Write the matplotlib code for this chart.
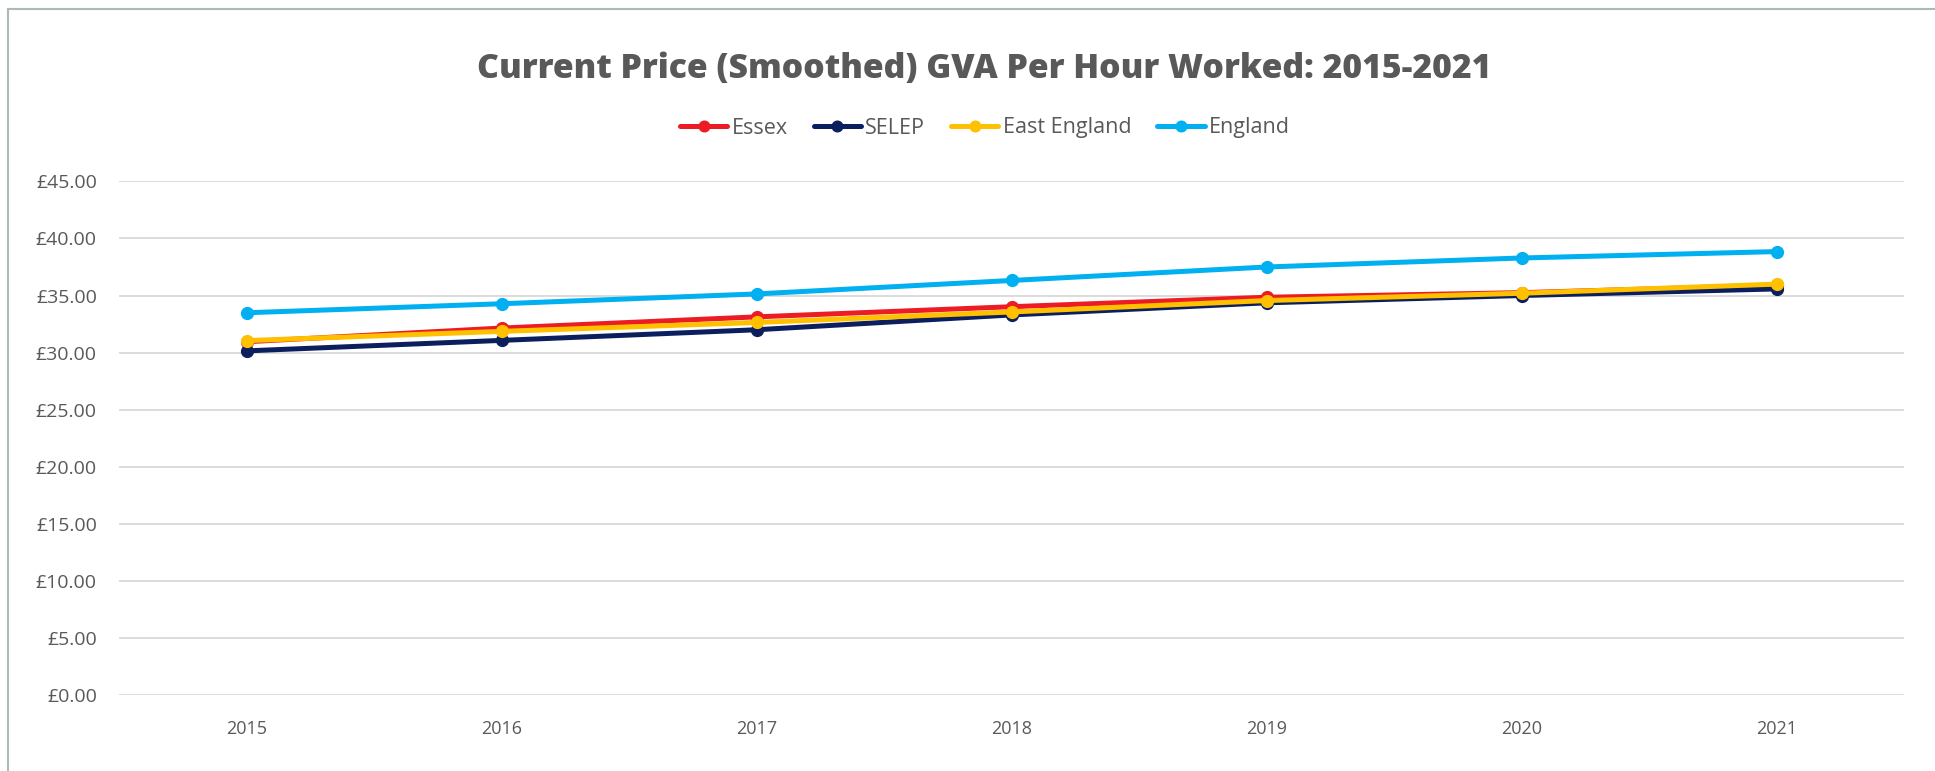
import matplotlib
matplotlib.use("Agg")
import matplotlib.pyplot as plt
from matplotlib.lines import Line2D
from matplotlib.ticker import FuncFormatter
import numpy as np

plt.rcParams["font.family"] = ["Open Sans", "DejaVu Sans"]

YEARS = ["2015", "2016", "2017", "2018", "2019", "2020", "2021"]
ESSEX = [30.95, 32.15, 33.13, 34.02, 34.85, 35.25, 35.9]
SELEP = [30.15, 31.07, 32.0, 33.3, 34.36, 35.0, 35.58]
EAST_ENGLAND = [31.05, 31.86, 32.64, 33.56, 34.56, 35.2, 36.0]
ENGLAND = [33.49, 34.28, 35.14, 36.32, 37.5, 38.29, 38.85]

SERIES = [
    ("Essex", ESSEX, "#ED1C24", 2),
    ("SELEP", SELEP, "#0B1F5E", 3),
    ("East England", EAST_ENGLAND, "#FFC000", 4),
    ("England", ENGLAND, "#00B0F0", 5),
]

TEXT = "#595959"
GRID = "#d9d9d9"

fig = plt.figure(figsize=(19.35, 7.71), dpi=100, facecolor="white")
ax = fig.add_axes([119 / 1935, 1 - 695 / 771, (1904 - 119) / 1935, (695 - 181.4) / 771])

x = np.arange(len(YEARS))
handles = []
for name, vals, color, z in SERIES:
    h, = ax.plot(x, vals, color=color, linewidth=3.6, marker="o",
                 markersize=8.5, label=name, zorder=z, solid_capstyle="round")
    handles.append(h)

ax.set_xlim(-0.5, len(YEARS) - 0.5)
ax.set_ylim(0, 45)
ax.set_yticks(np.arange(0, 46, 5))
ax.yaxis.set_major_formatter(FuncFormatter(lambda v, p: f"£{v:.2f}"))
ax.set_xticks(x)
ax.set_xticklabels(YEARS)
ax.tick_params(axis="both", length=0, labelcolor=TEXT)
ax.tick_params(axis="y", pad=16, labelsize=14)
ax.tick_params(axis="x", pad=18, labelsize=13)
ax.yaxis.grid(True, color=GRID, linewidth=1.3)
ax.set_axisbelow(True)
for s in ax.spines.values():
    s.set_visible(False)

fig.text(984 / 1935, 1 - 69 / 771, "Current Price (Smoothed) GVA Per Hour Worked: 2015-2021",
         ha="center", va="center", fontsize=24.3, fontweight=800, color=TEXT)

fig.legend(handles=handles, loc="center", bbox_to_anchor=(985 / 1935, 1 - 128 / 771),
           ncol=4, frameon=False, fontsize=15.5, labelcolor=TEXT, handlelength=2.2,
           handletextpad=0.2, columnspacing=1.2, markerscale=0.9)

# outer chart frame
fig.add_artist(Line2D([8 / 1935, 1], [1 - 9 / 771, 1 - 9 / 771], color="#aeb8b8", linewidth=1.5))
fig.add_artist(Line2D([8 / 1935, 8 / 1935], [0, 1 - 9 / 771], color="#aeb8b8", linewidth=1.5))

fig.savefig("out.png", dpi=100, facecolor="white")
